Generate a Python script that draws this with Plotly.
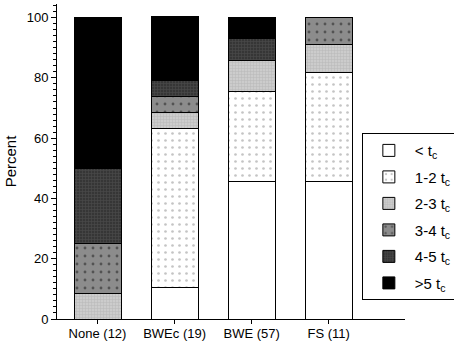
import plotly.graph_objects as go

categories = ["None (12)", "BWEc (19)", "BWE (57)", "FS (11)"]
series_names = ["< t<sub>c</sub>", "1-2 t<sub>c</sub>", "2-3 t<sub>c</sub>",
                "3-4 t<sub>c</sub>", "4-5 t<sub>c</sub>", ">5 t<sub>c</sub>"]
lt_tc = [0.0, 10.5, 45.6, 45.5]
t1_2 = [0.0, 52.7, 29.8, 36.4]
t2_3 = [8.3, 5.3, 10.5, 9.1]
t3_4 = [16.7, 5.3, 0.0, 9.0]
t4_5 = [25.0, 5.3, 7.0, 0.0]
gt5 = [50.0, 21.1, 7.1, 0.0]
y_ticks = [0, 20, 40, 60, 80, 100]

series_values = [lt_tc, t1_2, t2_3, t3_4, t4_5, gt5]
styles = [
    dict(color="white", pattern=dict(shape="")),
    dict(color="white", pattern=dict(shape=".", fgcolor="#8a8a8a", bgcolor="white", size=7, solidity=0.12)),
    dict(color="#c6c6c6", pattern=dict(shape="+", fgcolor="#a8a8a8", bgcolor="#cccccc", size=3, solidity=0.35)),
    dict(color="#8c8c8c", pattern=dict(shape=".", fgcolor="#1a1a1a", bgcolor="#8c8c8c", size=8, solidity=0.1)),
    dict(color="#474747", pattern=dict(shape="+", fgcolor="#5a5a5a", bgcolor="#363636", size=3, solidity=0.4)),
    dict(color="black", pattern=dict(shape="")),
]

x_pos = list(range(len(categories)))
fig = go.Figure()
for i, (name, vals, st) in enumerate(zip(series_names, series_values, styles)):
    fig.add_trace(go.Bar(
        x=x_pos, y=vals, name=name, width=0.61, legendgroup=f"g{i}",
        marker=dict(color=st["color"], pattern=st["pattern"],
                    line=dict(color="black", width=1)),
    ))

fig.update_layout(
    barmode="stack",
    width=454, height=347,
    margin=dict(l=57, r=49, t=4, b=28, autoexpand=False),
    paper_bgcolor="white", plot_bgcolor="white",
    font=dict(family="Liberation Sans, Arial, sans-serif", size=13, color="black"),
    showlegend=True,
    legend=dict(
        x=0.876, y=0.59, xanchor="left", yanchor="top",
        bordercolor="black", borderwidth=1, bgcolor="white",
        font=dict(size=15), traceorder="grouped", tracegroupgap=4,
        itemwidth=42,
    ),
    xaxis=dict(
        range=[-0.526, 3.99], tickmode="array", tickvals=x_pos, ticktext=categories,
        showline=True, linecolor="black", linewidth=1, ticks="outside", ticklen=4,
        tickcolor="black", showgrid=False, zeroline=False,
        tickfont=dict(size=13), ticklabelstandoff=-2,
    ),
    yaxis=dict(
        range=[0, 104.5], tickmode="array", tickvals=y_ticks,
        showline=True, linecolor="black", linewidth=1, ticks="outside", ticklen=5,
        tickcolor="black", showgrid=False, zeroline=False,
        minor=dict(dtick=2, ticks="outside", ticklen=3, tickcolor="black", showgrid=False),
        title=dict(text="Percent", font=dict(size=15), standoff=6),
        tickfont=dict(size=13),
    ),
)

fig.write_html("out.html", config={"displayModeBar": False},
               post_script="document.body.style.margin='0';")
